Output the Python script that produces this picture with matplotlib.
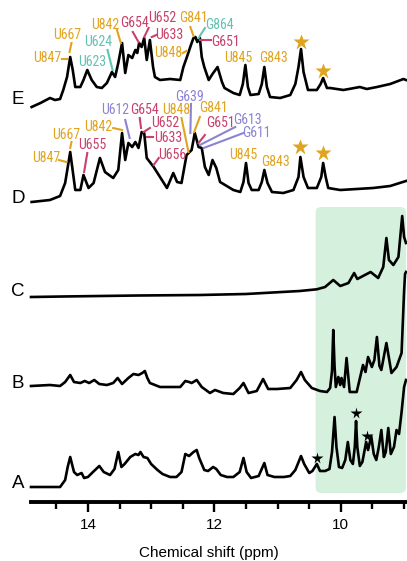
import matplotlib
matplotlib.use('Agg')
import matplotlib.pyplot as plt
from matplotlib import font_manager
from matplotlib.patches import FancyBboxPatch
from matplotlib.ticker import MultipleLocator

#========================= DATA =========================
# each trace: chemical shift (ppm) and signal above its own baseline (arb.)
a_ppm = [14.9, 14.44, 14.36, 14.32, 14.28, 14.22, 14.17, 14.1, 14.06, 14.0, 13.92, 13.82, 13.75, 13.65,
         13.58, 13.52, 13.47, 13.42, 13.33, 13.25, 13.2, 13.17, 13.12, 13.06, 13.0, 12.9, 12.82, 12.7,
         12.6, 12.52, 12.46, 12.4, 12.33, 12.28, 12.24, 12.16, 12.1, 12.02, 11.97, 11.9, 11.8, 11.7,
         11.6, 11.54, 11.49, 11.42, 11.3, 11.21, 11.16, 11.05, 10.9, 10.8, 10.72, 10.63, 10.58, 10.5,
         10.45, 10.38, 10.33, 10.25, 10.18, 10.14, 10.1, 10.07, 10.03, 9.98, 9.93, 9.89, 9.85, 9.81,
         9.78, 9.76, 9.74, 9.7, 9.66, 9.6, 9.57, 9.52, 9.48, 9.44, 9.4, 9.36, 9.32, 9.29, 9.25, 9.21,
         9.16, 9.12, 9.08, 9.04, 9.0, 8.97]
a_int = [0, 0, 7, 20, 30, 15, 12, 14, 9, 10, 15, 21, 15, 12,
         18, 35, 20, 23, 30, 33, 32, 35, 30, 29, 23, 17, 13, 10,
         10, 15, 33, 31, 35, 37, 29, 17, 16, 20, 18, 12, 10, 10,
         15, 29, 15, 9, 11, 24, 12, 10, 10, 11, 17, 31, 23, 14,
         16, 23, 16, 16, 18, 35, 70, 40, 20, 19, 27, 45, 27, 23,
         40, 66, 40, 21, 25, 45, 37, 51, 33, 27, 40, 57, 30, 35, 59, 33,
         40, 57, 53, 75, 100, 107]

b_ppm = [14.9, 14.6, 14.44, 14.36, 14.28, 14.22, 14.12, 14.05, 13.98, 13.9, 13.82, 13.7, 13.6, 13.53,
         13.46, 13.36, 13.28, 13.2, 13.14, 13.1, 13.06, 13.02, 12.86, 12.54, 12.46, 12.4, 12.36, 12.28,
         12.2, 12.07, 11.99, 11.86, 11.7, 11.6, 11.54, 11.46, 11.33, 11.23, 11.15, 11.01, 10.8, 10.7,
         10.63, 10.57, 10.46, 10.33, 10.22, 10.17, 10.14, 10.12, 10.1, 10.08, 10.04, 10.01, 9.99, 9.95,
         9.91, 9.86, 9.75, 9.65, 9.61, 9.57, 9.51, 9.47, 9.43, 9.39, 9.36, 9.28, 9.2, 9.12, 9.04, 9.0,
         8.985, 8.97]
b_int = [0, 1, 0, 4, 11, 4, 3, 5, 3, 6, 2, 1, 3, 8,
         2, 8, 12, 11, 13, 15, 8, 3, -1, -1, 5, 4, 3, 6,
         -1, -7, -4, -7, -8, -2, 3, -7, -5, 7, -3, -3, -2, 6,
         14, 6, -2, -5, -6, -2, 15, 56, 20, -1, 9, 1, 8, -1,
         28, -6, -6, 21, 14, 29, 19, 26, 49, 20, 16, 43, 13, 19, 33, 95,
         112, 114]

c_ppm = [14.9, 14.4, 13.81, 13.2, 12.23, 11.5, 10.65, 10.41, 10.38, 10.25, 10.12, 10.01, 9.88, 9.79,
         9.74, 9.65, 9.53, 9.41, 9.33, 9.28, 9.24, 9.17, 9.09, 9.03, 9.0, 8.97]
c_int = [0, 0.5, 1, 1.5, 2, 3, 6, 7.5, 7.7, 10, 17, 11, 14, 24,
         18, 21, 25, 19, 30, 59, 37, 32, 40, 81, 60, 54]

d_ppm = [14.89, 14.6, 14.44, 14.36, 14.28, 14.2, 14.12, 14.07, 13.99, 13.91, 13.81, 13.73, 13.6, 13.52,
         13.46, 13.41, 13.36, 13.3, 13.25, 13.2, 13.15, 13.11, 13.07, 12.96, 12.91, 12.81, 12.75, 12.65,
         12.59, 12.52, 12.44, 12.36, 12.31, 12.25, 12.2, 12.15, 12.09, 12.03, 11.97, 11.91, 11.7, 11.59,
         11.54, 11.5, 11.46, 11.41, 11.3, 11.25, 11.21, 11.16, 11.09, 10.91, 10.75, 10.67, 10.64, 10.59,
         10.52, 10.38, 10.31, 10.28, 10.24, 10.2, 10.01, 9.75, 9.49, 9.22, 8.97]
d_int = [0, 2, 6, 19, 50, 12, 12, 27, 14, 19, 44, 30, 24, 32,
         69, 42, 59, 55, 60, 54, 70, 69, 44, 35, 30, 20, 14, 29,
         20, 19, 47, 52, 69, 55, 54, 35, 27, 42, 34, 20, 12, 10,
         20, 39, 19, 12, 12, 20, 32, 19, 10, 9, 12, 25, 45, 25,
         14, 14, 25, 39, 25, 14, 12, 13, 14, 16, 21]

e_ppm = [14.89, 14.75, 14.6, 14.52, 14.44, 14.39, 14.33, 14.28, 14.24, 14.2, 14.12, 14.07, 14.01, 13.94,
         13.86, 13.78, 13.7, 13.62, 13.57, 13.52, 13.46, 13.41, 13.36, 13.3, 13.25, 13.22, 13.19, 13.15,
         13.11, 13.07, 13.02, 12.97, 12.94, 12.86, 12.7, 12.54, 12.49, 12.44, 12.36, 12.33, 12.3, 12.27,
         12.23, 12.2, 12.16, 12.09, 12.03, 11.95, 11.88, 11.84, 11.7, 11.6, 11.55, 11.51, 11.47, 11.43,
         11.3, 11.25, 11.21, 11.17, 11.12, 10.96, 10.8, 10.72, 10.67, 10.63, 10.59, 10.52, 10.38, 10.32,
         10.28, 10.22, 10.17, 9.96, 9.7, 9.59, 9.43, 9.22, 9.01, 8.97]
e_int = [0, 4, 9, 7, 8, 17, 30, 50, 37, 20, 20, 27, 37, 27,
         20, 19, 24, 35, 30, 44, 64, 34, 52, 49, 57, 54, 64, 60,
         69, 47, 67, 40, 30, 27, 28, 27, 40, 49, 64, 69, 70, 65,
         69, 50, 40, 27, 33, 40, 25, 19, 14, 12, 23, 42, 20, 12,
         13, 23, 40, 20, 10, 9, 12, 23, 40, 58, 35, 17, 17, 23,
         29, 19, 19, 17, 20, 18, 20, 23, 28, 27]

trace_names = ['A', 'B', 'C', 'D', 'E']

# resonance assignments: (name, nucleotide group)
e_assign = ['U847', 'U667', 'U624', 'U623', 'U842', 'G654', 'U652', 'U633', 'U848', 'G841', 'G864',
            'G651', 'U845', 'G843']
d_assign = ['U847', 'U667', 'U655', 'U842', 'U612', 'G654', 'U652', 'U633', 'U848', 'U656', 'G639',
            'G841', 'G651', 'G613', 'G611', 'U845', 'G843']
group_of = {'U847': 'o', 'U667': 'o', 'U842': 'o', 'U848': 'o', 'G841': 'o', 'U845': 'o', 'G843': 'o',
            'U624': 't', 'U623': 't', 'G864': 't',
            'G654': 'r', 'U652': 'r', 'U633': 'r', 'G651': 'r', 'U655': 'r', 'U656': 'r',
            'U612': 'p', 'G639': 'p', 'G613': 'p', 'G611': 'p'}

#========================= STYLE / LAYOUT =========================
colors = {'o': '#e0a41e', 't': '#62c2b2', 'r': '#c9406b', 'p': '#8b84d4'}
trace_offset = [15, 116, 205, 300, 395]
label_y_px = [484, 384, 292, 198, 99]

# text centre (ppm, y) and leader line (x1, y1, x2, y2) for each assignment
e_layout = {'U847': (14.64, 444, (14.41, 443, 14.33, 443)),
            'U667': (14.33, 467, (14.26, 459, 14.29, 450)),
            'U624': (13.83, 460, None),
            'U623': (13.94, 440, (13.69, 452, 13.61, 432)),
            'U842': (13.73, 477, (13.54, 472, 13.48, 459)),
            'G654': (13.26, 479, (13.29, 470, 13.20, 460)),
            'U652': (12.82, 484, (13.04, 474, 13.11, 465)),
            'U633': (12.71, 467, (12.99, 465, 12.92, 467)),
            'U848': (12.73, 449, (12.50, 449, 12.44, 451)),
            'G841': (12.33, 484, (12.38, 475, 12.33, 466)),
            'G864': (11.92, 477, (12.15, 474, 12.25, 464)),
            'G651': (11.83, 460, (12.23, 462, 12.06, 462)),
            'U845': (11.63, 444, None),
            'G843': (11.07, 444, None)}
d_layout = {'U847': (14.66, 344, (14.46, 342, 14.34, 340)),
            'U667': (14.35, 367, (14.26, 360, 14.28, 354)),
            'U655': (13.93, 357, (14.01, 349, 14.06, 330)),
            'U842': (13.83, 375, (13.60, 374, 13.46, 372)),
            'U612': (13.57, 392, (13.41, 382, 13.34, 364)),
            'G654': (13.10, 392, (13.18, 384, 13.16, 374)),
            'U652': (12.78, 379, (13.02, 374, 13.12, 370)),
            'U633': (12.73, 364, (13.07, 365, 12.97, 365)),
            'U848': (12.60, 392, (12.52, 384, 12.41, 350)),
            'U656': (12.67, 347, (12.88, 344, 12.96, 337)),
            'G639': (12.40, 405, (12.37, 398, 12.38, 369)),
            'G841': (12.02, 394, (12.23, 385, 12.32, 370)),
            'G651': (11.91, 379, (12.15, 367, 12.25, 359)),
            'G613': (11.48, 382, (11.67, 375, 12.23, 357)),
            'G611': (11.33, 369, (11.54, 369, 12.17, 354)),
            'U845': (11.54, 347, None),
            'G843': (11.04, 340, None)}
gold_stars = [(10.63, 460), (10.28, 431), (10.64, 355), (10.28, 349)]
black_stars = [(10.38, 44), (9.76, 89), (9.59, 66)]

#------------------------- fonts
plt.rcParams['font.family'] = ['Liberation Sans', 'DejaVu Sans']
names = {f.name for f in font_manager.fontManager.ttflist}
narrow, narrow_size = 'Liberation Sans', 8.3
for cand, size in [('Liberation Sans Narrow', 10.3), ('Roboto Condensed', 10), ('Open Sans Condensed', 10)]:
    if cand in names:
        narrow, narrow_size = cand, size
        break

#========================= PLOT =========================
W, H = 407, 561
fig = plt.figure(figsize=(W / 100, H / 100), dpi=100)
ax = fig.add_axes([31 / W, 59 / H, 375 / W, 502 / H])
ax.set_xlim(14.9, 8.97)
ax.set_ylim(0, 502)

box = FancyBboxPatch((8.97, 9), 10.40 - 8.97, 295 - 9, boxstyle='round,pad=0,rounding_size=0.09',
                     mutation_aspect=63.2, fc='#d5f1dd', ec='none', zorder=0, clip_on=False)
ax.add_patch(box)

traces = [(a_ppm, a_int), (b_ppm, b_int), (c_ppm, c_int), (d_ppm, d_int), (e_ppm, e_int)]
for (ppm, sig), off, name, ly in zip(traces, trace_offset, trace_names, label_y_px):
    ax.plot(ppm, [s + off for s in sig], color='black', lw=1.9, solid_joinstyle='round', zorder=3,
            clip_on=False)
    fig.text(18 / W, 1 - ly / H, name, fontsize=13.5, ha='center', va='center')

for assign, layout in [(e_assign, e_layout), (d_assign, d_layout)]:
    for lab in assign:
        tx, ty, line = layout[lab]
        col = colors[group_of[lab]]
        ax.text(tx, ty, lab, color=col, fontsize=narrow_size, family=narrow, ha='center', va='center',
                zorder=4)
        if line:
            ax.plot([line[0], line[2]], [line[1], line[3]], color=col, lw=1.5, zorder=4)

for x, y in gold_stars:
    ax.plot(x, y, marker='*', ms=12, color='#e0a41e', mec='none', zorder=4)
for x, y in black_stars:
    ax.plot(x, y, marker='*', ms=8.5, color='black', mec='none', zorder=4)

for s in ['left', 'right', 'top']:
    ax.spines[s].set_visible(False)
ax.spines['bottom'].set_linewidth(2.8)
ax.set_yticks([])
ax.set_xticks([14, 12, 10])
ax.xaxis.set_minor_locator(MultipleLocator(0.5))
ax.tick_params(axis='x', which='major', length=7.5, width=1.7, labelsize=11, pad=4)
ax.tick_params(axis='x', which='minor', length=5, width=1.7)
ax.patch.set_visible(False)

fig.text(209 / W, 1 - 553 / H, 'Chemical shift (ppm)', fontsize=11, ha='center', va='center')

plt.savefig('out.png', dpi=100)
plt.close()
